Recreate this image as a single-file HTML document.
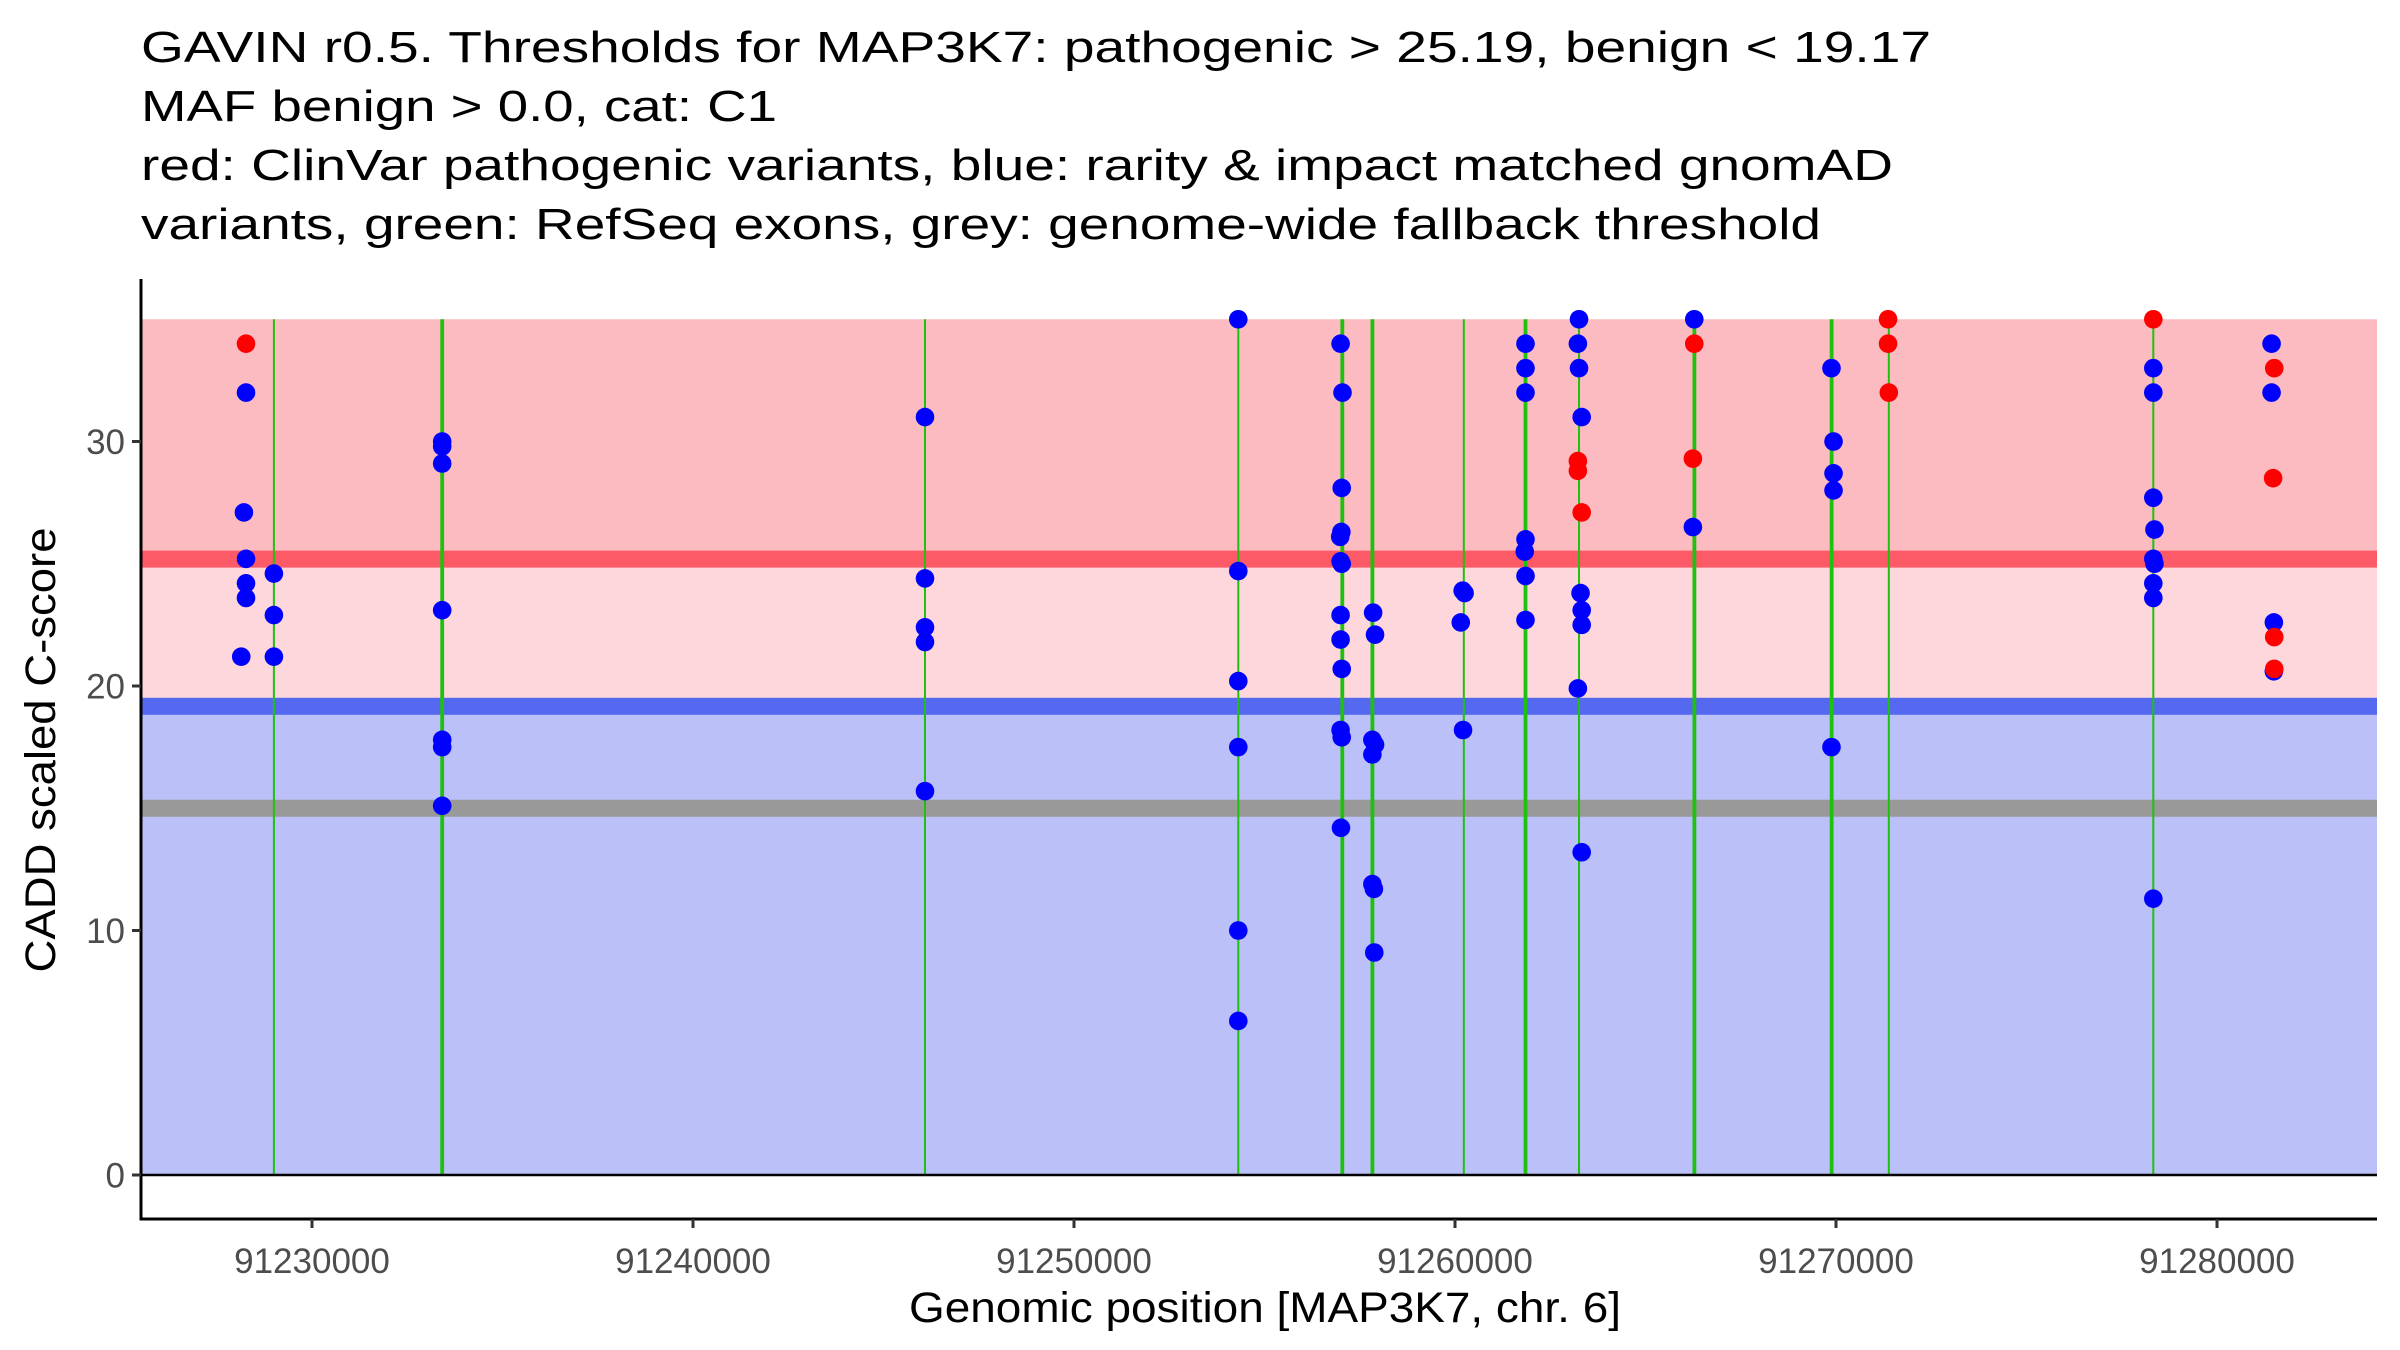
<!DOCTYPE html>
<html><head><meta charset="utf-8"><style>
html,body{margin:0;padding:0;background:#fff;}
svg{display:block;font-family:"Liberation Sans",Arial,sans-serif;}
</style></head><body>
<svg id="chart" width="2400" height="1350" viewBox="0 0 2400 1350" xmlns="http://www.w3.org/2000/svg">
<g font-size="44" fill="#000">
<text x="141" y="62" textLength="1790" lengthAdjust="spacingAndGlyphs">GAVIN r0.5. Thresholds for MAP3K7: pathogenic &gt; 25.19, benign &lt; 19.17</text>
<text x="141" y="121" textLength="636" lengthAdjust="spacingAndGlyphs">MAF benign &gt; 0.0, cat: C1</text>
<text x="141" y="180" textLength="1752" lengthAdjust="spacingAndGlyphs">red: ClinVar pathogenic variants, blue: rarity &amp; impact matched gnomAD</text>
<text x="141" y="239" textLength="1680" lengthAdjust="spacingAndGlyphs">variants, green: RefSeq exons, grey: genome-wide fallback threshold</text>
</g>
<g id="bands"></g>
<g id="exons"></g>
<g id="points"></g>
<g id="axes"></g>
</svg>
<script>
const xTicks = [91230000, 91240000, 91250000, 91260000, 91270000, 91280000];
const yTicks = [0, 10, 20, 30];
const pathoThreshold = 25.19;
const benignThreshold = 19.17;
const fallbackThreshold = 15;
const scoreMax = 35;
const exonStarts = [91228980, 91233367, 91246069, 91254292, 91256992, 91257782, 91260211, 91261800, 91263230, 91266233, 91269835, 91271366, 91278303];
const exonEnds   = [91229020, 91233467, 91246109, 91254332, 91257092, 91257882, 91260251, 91261900, 91263280, 91266333, 91269935, 91271406, 91278353];
const pointPos = [
 91228268,91228268,91228213,91228268,91228268,91228268,91228143,
 91229000,91229000,91229000,
 91233417,91233417,91233417,91233417,91233417,91233417,91233417,
 91246089,91246089,91246089,91246089,91246089,
 91254312,91254312,91254312,91254312,91254312,91254312,
 91256997,91257047,91257027,91257017,91256987,91256997,91257027,91256997,91256997,91257027,91256997,91257027,91257007,
 91257851,91257901,91257831,91257901,91257831,91257831,91257871,91257881,
 91260201,91260251,91260151,91260211,
 91261850,91261850,91261850,91261850,91261830,91261850,91261850,
 91263255,91263225,91263255,91263325,91263295,91263325,91263325,91263225,91263325,91263225,91263225,91263325,
 91266280,91266243,91266280,91266243,
 91269881,91269935,91269935,91269935,91269881,
 91271366,91271366,91271386,
 91278328,91278328,91278328,91278328,91278358,91278328,91278358,91278328,91278328,91278328,
 91281432,91281432,91281492,91281492,91281502,91281472,91281502,91281502
];
const pointScore = [
 34,32,27.1,25.2,24.2,23.6,21.2,
 24.6,22.9,21.2,
 30,29.8,29.1,23.1,17.8,17.5,15.1,
 31,24.4,22.4,21.8,15.7,
 35,24.7,20.2,17.5,10,6.3,
 34,32,28.1,26.3,26.1,25.1,25.0,22.9,21.9,20.7,18.2,17.9,14.2,
 23,22.1,17.8,17.6,17.2,11.9,11.7,9.1,
 23.9,23.8,22.6,18.2,
 34,33,32,26,25.5,24.5,22.7,
 35,34,33,31,23.8,23.1,22.5,19.9,13.2,29.2,28.8,27.1,
 35,26.5,34,29.3,
 33,30,28.7,28,17.5,
 35,34,32,
 35,33,32,27.7,26.4,25.2,25,24.2,23.6,11.3,
 34,32,22.6,20.6,33,28.5,22,20.7
];
const pointIsPatho = [
 1,0,0,0,0,0,0,
 0,0,0,
 0,0,0,0,0,0,0,
 0,0,0,0,0,
 0,0,0,0,0,0,
 0,0,0,0,0,0,0,0,0,0,0,0,0,
 0,0,0,0,0,0,0,0,
 0,0,0,0,
 0,0,0,0,0,0,0,
 0,0,0,0,0,0,0,0,0,1,1,1,
 0,0,1,1,
 0,0,0,0,0,
 1,1,1,
 1,0,0,0,0,0,0,0,0,0,
 0,0,0,0,1,1,1,1
];

const NS = "http://www.w3.org/2000/svg";
const PL = 141, PR = 2377, PT = 279, PB = 1219;
const X0 = 91225512, X1 = 91284199;
const Y0px = 1175, YPU = 24.45;
function xs(g){ return PL + (g - X0) / (X1 - X0) * (PR - PL); }
function ys(v){ return Y0px - v * YPU; }
function mk(parent, tag, attrs){
  const el = document.createElementNS(NS, tag);
  for (const k in attrs) el.setAttribute(k, attrs[k]);
  parent.appendChild(el);
  return el;
}
const bands = document.getElementById('bands');
let r;
r = mk(bands, 'rect', {x: PL, y: ys(scoreMax), width: PR - PL, height: ys(pathoThreshold) - ys(scoreMax), fill: '#FCBBC0'});


r = mk(bands, 'rect', {x: PL, y: ys(pathoThreshold), width: PR - PL, height: ys(benignThreshold) - ys(pathoThreshold), fill: '#FDD7DB'});


r = mk(bands, 'rect', {x: PL, y: ys(benignThreshold), width: PR - PL, height: ys(0) - ys(benignThreshold), fill: '#BBC1F8'});


r = mk(bands, 'rect', {x: PL, y: ys(pathoThreshold) - 8.5, width: PR - PL, height: 17, fill: '#FC5A66'});


r = mk(bands, 'rect', {x: PL, y: ys(benignThreshold) - 8.5, width: PR - PL, height: 17, fill: '#5468F0'});


r = mk(bands, 'rect', {x: PL, y: ys(fallbackThreshold) - 8.5, width: PR - PL, height: 17, fill: '#999999'});



const exons = document.getElementById('exons');
for (let i = 0; i < exonStarts.length; i++){
  const a = xs(exonStarts[i]), b = xs(exonEnds[i]);
  const w = Math.max(2, b - a);
  const e = mk(exons, 'rect', {x: (a + b) / 2 - w / 2, y: ys(scoreMax), width: w, height: ys(0) - ys(scoreMax), fill: '#1FC10F'});
  
  
}
const pts = document.getElementById('points');
const order = [];
for (let i = 0; i < pointPos.length; i++) if (!pointIsPatho[i]) order.push(i);
for (let i = 0; i < pointPos.length; i++) if (pointIsPatho[i]) order.push(i);
for (const i of order){
  const c = mk(pts, 'circle', {cx: xs(pointPos[i]), cy: ys(pointScore[i]), r: 9.3, fill: pointIsPatho[i] ? '#FF0000' : '#0000FF'});
  
  
}
const axes = document.getElementById('axes');
let l = mk(axes, 'line', {x1: PL, y1: PT, x2: PL, y2: PB + 1.5, stroke: '#000', 'stroke-width': 3});


l = mk(axes, 'line', {x1: PL - 1.5, y1: PB, x2: PR, y2: PB, stroke: '#000', 'stroke-width': 3});


l = mk(axes, 'line', {x1: PL, y1: ys(0), x2: PR, y2: ys(0), stroke: '#000', 'stroke-width': 2.5});


for (const t of xTicks){
  const x = xs(t);
  const tk = mk(axes, 'line', {x1: x, y1: PB, x2: x, y2: PB + 9, stroke: '#333', 'stroke-width': 3});
  
  
  const tx = mk(axes, 'text', {x: x, y: 1273, 'text-anchor': 'middle', 'font-size': 35, fill: '#4D4D4D'});
  tx.textContent = String(t);
  
  
}
for (const t of yTicks){
  const y = ys(t);
  const tk = mk(axes, 'line', {x1: PL - 9, y1: y, x2: PL, y2: y, stroke: '#333', 'stroke-width': 3});
  
  
  const tx = mk(axes, 'text', {x: PL - 16, y: y + 12.5, 'text-anchor': 'end', 'font-size': 35, fill: '#4D4D4D'});
  tx.textContent = String(t);
  
  
}
const xt = mk(axes, 'text', {x: 1265, y: 1322, 'text-anchor': 'middle', 'font-size': 43, fill: '#000', textLength: 712, lengthAdjust: 'spacingAndGlyphs'});
xt.textContent = 'Genomic position [MAP3K7, chr. 6]';


const yt = mk(axes, 'text', {x: 0, y: 0, 'text-anchor': 'middle', 'font-size': 43, fill: '#000', transform: 'translate(55,750) rotate(-90)', textLength: 445, lengthAdjust: 'spacingAndGlyphs'});
yt.textContent = 'CADD scaled C-score';


</script>
</body></html>
